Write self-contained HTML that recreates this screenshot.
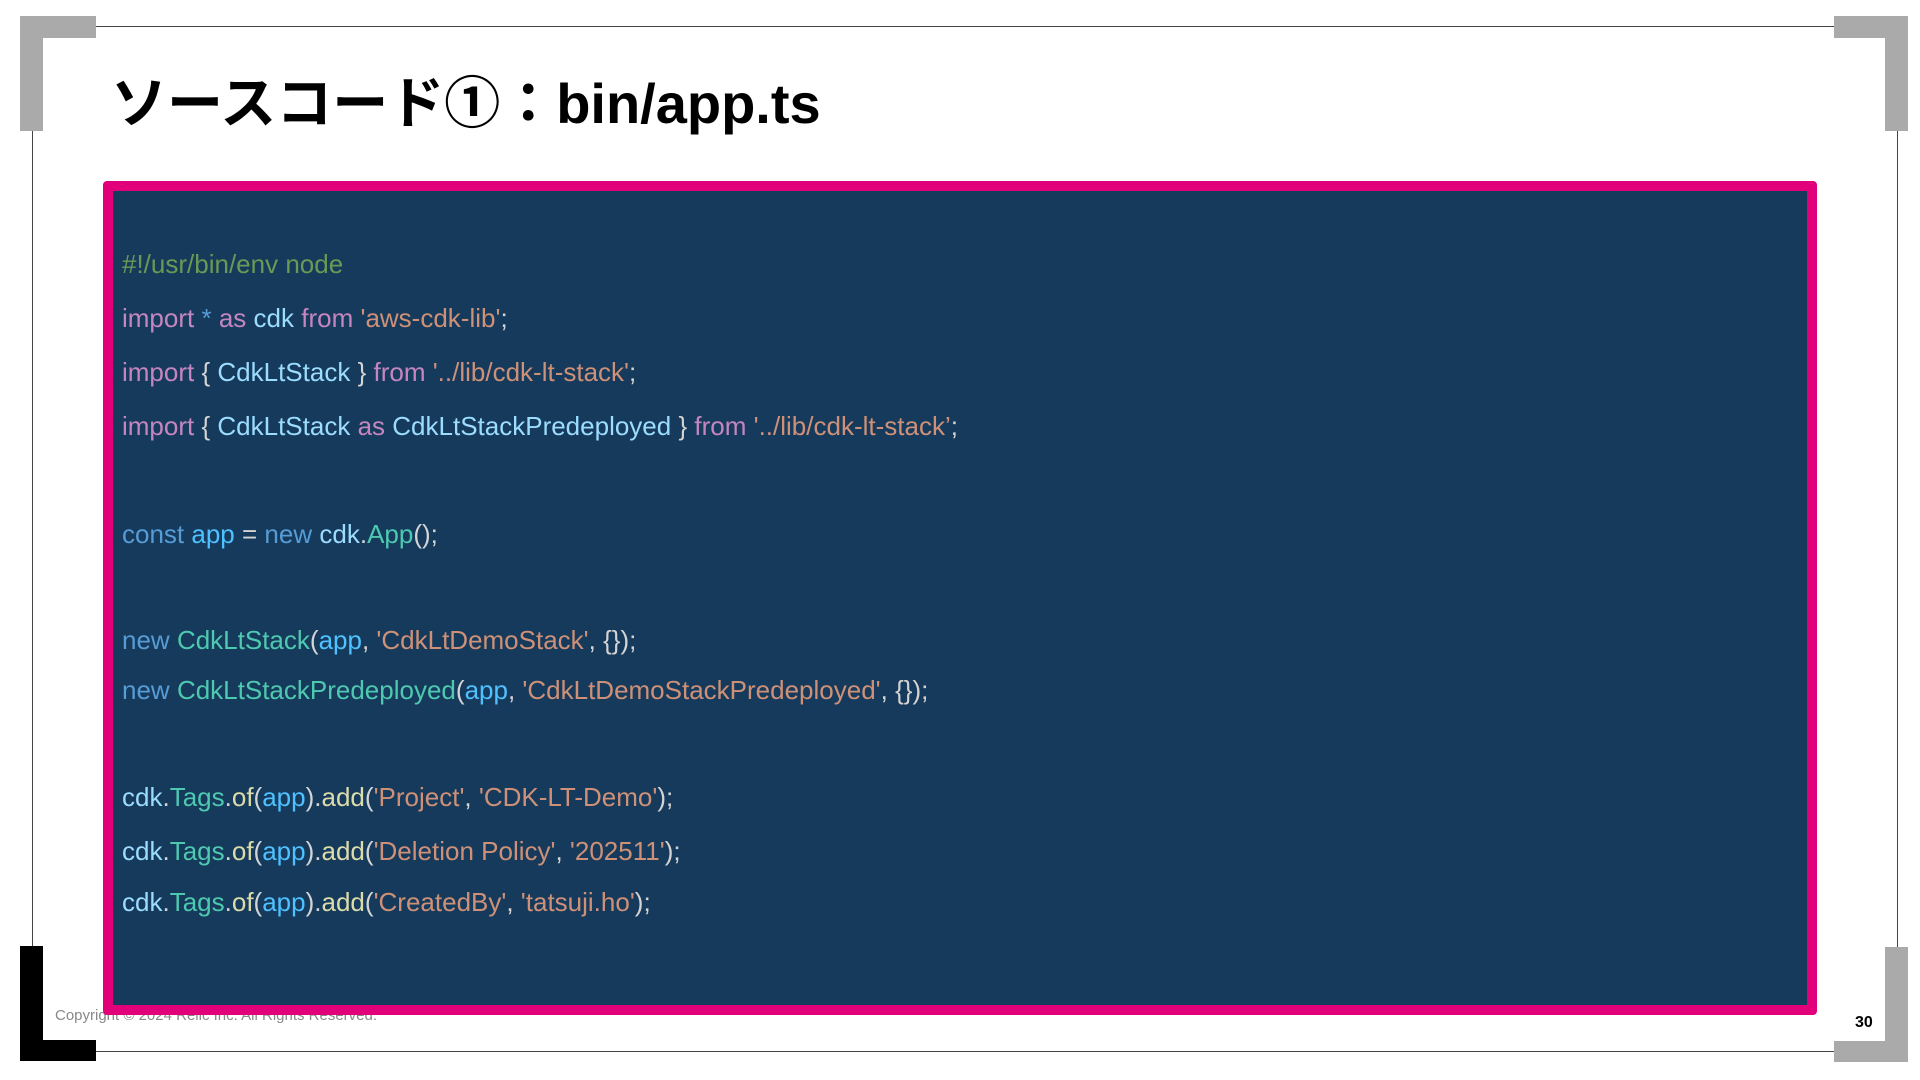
<!DOCTYPE html>
<html><head><meta charset="utf-8"><style>
body{margin:0;width:1920px;height:1080px;background:#fff;position:relative;overflow:hidden;font-family:"Liberation Sans","Noto Sans CJK JP",sans-serif}
.a{position:absolute}
.g{background:#aaa}
.code{position:absolute;left:103px;top:181px;width:1694px;height:814px;background:#163a5c;border:10px solid #e2007a;border-radius:4px}
.l{position:absolute;left:122px;font-family:"Liberation Sans Narrow","Liberation Sans",sans-serif;font-size:26px;white-space:pre;color:#d4d4d4;line-height:30px}
.c{color:#6a9955}.k{color:#c586c0}.v{color:#9cdcfe}.s{color:#ce9178}.b{color:#569cd6}.t{color:#4ec9b0}.f{color:#dcdcaa}.p{color:#4fc1ff}
</style></head><body>
<div class="a" style="left:96px;top:26px;width:1738px;height:1px;background:#444"></div>
<div class="a" style="left:32px;top:131px;width:1px;height:816px;background:#444"></div>
<div class="a" style="left:1897px;top:131px;width:1px;height:816px;background:#444"></div>
<div class="a" style="left:96px;top:1051px;width:1738px;height:1px;background:#444"></div>
<div class="a g" style="left:20px;top:16px;width:76px;height:22px"></div>
<div class="a g" style="left:20px;top:16px;width:23px;height:115px"></div>
<div class="a g" style="left:1834px;top:16px;width:74px;height:22px"></div>
<div class="a g" style="left:1885px;top:16px;width:23px;height:115px"></div>
<div class="a g" style="left:1834px;top:1041px;width:74px;height:21px"></div>
<div class="a g" style="left:1885px;top:947px;width:23px;height:115px"></div>
<div class="a" style="left:20px;top:946px;width:23px;height:115px;background:#000"></div>
<div class="a" style="left:20px;top:1040px;width:76px;height:21px;background:#000"></div>
<div class="a" style="left:111px;top:68px;font-size:56px;font-weight:bold;line-height:72px;color:#000;white-space:nowrap">ソースコード①：bin/app.ts</div>
<div class="a" style="left:55px;top:1007px;font-size:15px;color:#888">Copyright © 2024 Relic Inc. All Rights Reserved.</div>
<div class="a" style="left:1855px;top:1014px;font-size:16px;font-weight:bold;color:#000">30</div>
<div class="code"></div>
<div class="l" style="top:249px"><span class="c">#!/usr/bin/env node</span></div>
<div class="l" style="top:303px"><span class="k">import</span> <span class="b">*</span> <span class="k">as</span> <span class="v">cdk</span> <span class="k">from</span> <span class="s">'aws-cdk-lib'</span>;</div>
<div class="l" style="top:357px"><span class="k">import</span> { <span class="v">CdkLtStack</span> } <span class="k">from</span> <span class="s">'../lib/cdk-lt-stack'</span>;</div>
<div class="l" style="top:411px"><span class="k">import</span> { <span class="v">CdkLtStack</span> <span class="k">as</span> <span class="v">CdkLtStackPredeployed</span> } <span class="k">from</span> <span class="s">'../lib/cdk-lt-stack’</span>;</div>
<div class="l" style="top:519px"><span class="b">const</span> <span class="p">app</span> = <span class="b">new</span> <span class="v">cdk</span>.<span class="t">App</span>();</div>
<div class="l" style="top:625px"><span class="b">new</span> <span class="t">CdkLtStack</span>(<span class="p">app</span>, <span class="s">'CdkLtDemoStack'</span>, {});</div>
<div class="l" style="top:675px"><span class="b">new</span> <span class="t">CdkLtStackPredeployed</span>(<span class="p">app</span>, <span class="s">'CdkLtDemoStackPredeployed'</span>, {});</div>
<div class="l" style="top:782px"><span class="v">cdk</span>.<span class="t">Tags</span>.<span class="f">of</span>(<span class="p">app</span>).<span class="f">add</span>(<span class="s">'Project'</span>, <span class="s">'CDK-LT-Demo'</span>);</div>
<div class="l" style="top:836px"><span class="v">cdk</span>.<span class="t">Tags</span>.<span class="f">of</span>(<span class="p">app</span>).<span class="f">add</span>(<span class="s">'Deletion Policy'</span>, <span class="s">'202511'</span>);</div>
<div class="l" style="top:887px"><span class="v">cdk</span>.<span class="t">Tags</span>.<span class="f">of</span>(<span class="p">app</span>).<span class="f">add</span>(<span class="s">'CreatedBy'</span>, <span class="s">'tatsuji.ho'</span>);</div>
</body></html>
